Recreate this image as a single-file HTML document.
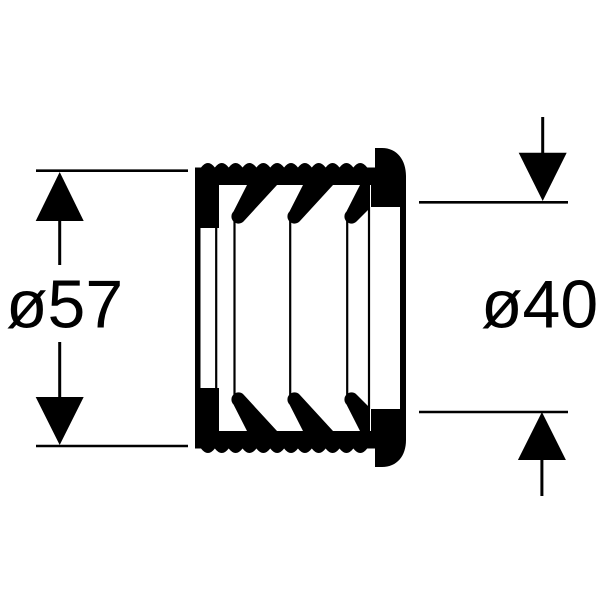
<!DOCTYPE html>
<html>
<head>
<meta charset="utf-8">
<style>
html,body{margin:0;padding:0;background:#fff;width:600px;height:600px;overflow:hidden}
svg{display:block}
text{font-family:"Liberation Sans",sans-serif;font-size:68px;fill:#000}
</style>
</head>
<body>
<svg width="600" height="600" viewBox="0 0 600 600" xmlns="http://www.w3.org/2000/svg">
<rect width="600" height="600" fill="#fff"/>
<!-- outer body -->
<path fill="#000" d="M195 167.5H201q6.9 -9 13.85 0q6.9 -9 13.85 0q6.9 -9 13.85 0q6.9 -9 13.85 0q6.9 -9 13.85 0q6.9 -9 13.85 0q6.9 -9 13.85 0q6.9 -9 13.85 0q6.9 -9 13.85 0q6.9 -9 13.85 0q6.9 -9 13.85 0q6.9 -9 13.85 0H375V148H382C397 148 406 160 406 176V440C406 456 397 467 382 467H375V448.5H367.2q-6.9 9 -13.85 0q-6.9 9 -13.85 0q-6.9 9 -13.85 0q-6.9 9 -13.85 0q-6.9 9 -13.85 0q-6.9 9 -13.85 0q-6.9 9 -13.85 0q-6.9 9 -13.85 0q-6.9 9 -13.85 0q-6.9 9 -13.85 0q-6.9 9 -13.85 0q-6.9 9 -13.85 0H195Z"/>
<!-- interior -->
<rect x="219" y="185" width="152" height="246" fill="#fff"/>
<rect x="200.5" y="228" width="19" height="160" fill="#fff"/>
<rect x="369" y="207" width="31" height="202" fill="#fff"/>
<!-- teeth top -->
<g fill="#000">
<path d="M247 185L233.5 211.5A6.3 6.3 0 0 0 243.5 221.5L277 185Z"/>
<path d="M303 185L289.5 211.5A6.3 6.3 0 0 0 299.5 221.5L333 185Z"/>
<path d="M360 185L346.5 211.5A6.3 6.3 0 0 0 356.5 221.5L370 208V184H360Z"/>
<!-- teeth bottom -->
<path d="M247 431L233.5 404.5A6.3 6.3 0 0 1 243.5 394.5L277 431Z"/>
<path d="M303 431L289.5 404.5A6.3 6.3 0 0 1 299.5 394.5L333 431Z"/>
<path d="M360 431L346.5 404.5A6.3 6.3 0 0 1 356.5 394.5L370 408V432H360Z"/>
</g>
<!-- thin lines -->
<g stroke="#000" stroke-width="2.2" fill="none">
<path d="M216.2 228V388"/>
<path d="M234.5 218V398"/>
<path d="M290.2 218V398"/>
<path d="M347.2 218V398"/>
<path d="M369 207V409"/>
</g>
<!-- dimension lines -->
<g stroke="#000" stroke-width="2.6" fill="none">
<path d="M36 170.7H188"/>
<path d="M36 446H188"/>
<path d="M419 202.3H568"/>
<path d="M419 412H568"/>
</g>
<g stroke="#000" stroke-width="3" fill="none">
<path d="M59.7 215V265"/>
<path d="M59.7 342V400"/>
<path d="M542.7 117V160"/>
<path d="M541.9 455V496"/>
</g>
<g fill="#000">
<path d="M59.7 172L83.7 221H35.7Z"/>
<path d="M59.7 445L35.7 397H83.7Z"/>
<path d="M542.7 201L518.7 152.7H566.7Z"/>
<path d="M541.9 412L565.9 460H517.9Z"/>
</g>
<text x="6" y="327.5">ø57</text>
<text x="481" y="327.5">ø40</text>
</svg>
</body>
</html>
